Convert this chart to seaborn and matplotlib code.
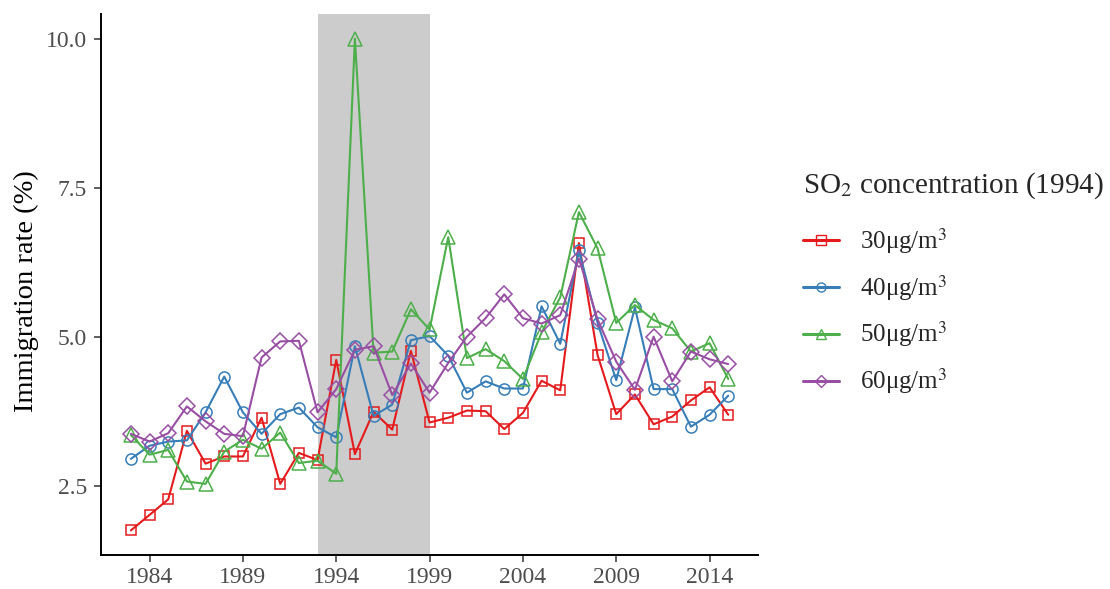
import numpy as np
import pandas as pd
import matplotlib
matplotlib.use("Agg")
import matplotlib.pyplot as plt
import seaborn as sns

# ---------------- data ----------------
years = list(range(1983, 2016))

so2_30 = [1.75, 2.01, 2.27, 3.42, 2.87, 2.99, 2.99, 3.64, 2.53, 3.05, 2.93,
          4.61, 3.03, 3.74, 3.44, 4.76, 3.56, 3.64, 3.76, 3.75, 3.45, 3.72,
          4.26, 4.10, 6.57, 4.69, 3.70, 4.03, 3.53, 3.66, 3.93, 4.15, 3.69]
so2_40 = [2.95, 3.17, 3.24, 3.26, 3.73, 4.33, 3.73, 3.37, 3.70, 3.81, 3.48,
          3.31, 4.84, 3.67, 3.86, 4.94, 5.01, 4.68, 4.06, 4.25, 4.13, 4.13,
          5.51, 4.88, 6.45, 5.23, 4.27, 5.49, 4.12, 4.12, 3.49, 3.69, 4.01]
so2_50 = [3.35, 3.02, 3.10, 2.57, 2.53, 3.07, 3.27, 3.12, 3.39, 2.88, 2.92,
          2.70, 10.00, 4.73, 4.75, 5.46, 5.12, 6.67, 4.64, 4.79, 4.59, 4.29,
          5.07, 5.66, 7.09, 6.48, 5.23, 5.53, 5.28, 5.14, 4.75, 4.89, 4.29]
so2_60 = [3.37, 3.24, 3.38, 3.83, 3.58, 3.37, 3.33, 4.65, 4.92, 4.93, 3.73,
          4.12, 4.78, 4.84, 4.02, 4.55, 4.06, 4.56, 5.00, 5.31, 5.71, 5.31,
          5.22, 5.36, 6.31, 5.29, 4.58, 4.11, 5.00, 4.25, 4.75, 4.62, 4.54]

groups = ["30μg/m$^3$", "40μg/m$^3$", "50μg/m$^3$", "60μg/m$^3$"]
shade_start, shade_end = 1993, 1999

df = pd.DataFrame({
    "year": years * 4,
    "rate": so2_30 + so2_40 + so2_50 + so2_60,
    "group": np.repeat(groups, len(years)),
})

# ---------------- style ----------------
sns.set_style("ticks")
plt.rcParams["font.family"] = ["Liberation Serif", "DejaVu Serif"]
plt.rcParams["mathtext.fontset"] = "stix"

palette = ["#E41A1C", "#377EB8", "#4DAF4A", "#984EA3"]
markers = ["s", "o", "^", "D"]
msize = {"s": 7.5, "o": 8, "^": 10, "D": 8}

fig = plt.figure(figsize=(11.1, 5.89), dpi=100)
ax = fig.add_axes([0.091, 0.058, 0.592, 0.918])

ax.axvspan(shade_start, shade_end, color="#CCCCCC", zorder=0, lw=0)

sns.lineplot(data=df, x="year", y="rate", hue="group", style="group",
             palette=palette, markers=markers, dashes=False, ax=ax,
             linewidth=1.5, markersize=8, markerfacecolor="none")

# open markers in the line colour
for line in ax.lines:
    line.set_markeredgecolor(line.get_color())
    line.set_markerfacecolor("none")
    line.set_markeredgewidth(1.1)
    line.set_zorder(3)
    m = line.get_marker()
    if m in msize:
        line.set_markersize(msize[m])

handles, labels = ax.get_legend_handles_labels()
for h in handles:
    h.set_markeredgecolor(h.get_color())
    h.set_markerfacecolor("none")
    h.set_markeredgewidth(1.0)
    h.set_markersize(6.5)
    h.set_linewidth(2.2)
leg = ax.legend(handles, labels, title="SO$_2$ concentration (1994)",
                loc="upper left", bbox_to_anchor=(0.7234, 0.71),
                bbox_transform=fig.transFigure, frameon=False,
                borderaxespad=0, borderpad=0,
                fontsize=18, title_fontsize=21, handlelength=1.45,
                labelspacing=0.68, handletextpad=0.85, alignment="left")
leg._legend_box.sep = 17.5   # a bit more room under the title

ax.set_xlim(1981.4, 2016.6)
ax.set_ylim(1.34, 10.41)
ax.set_xticks(range(1984, 2015, 5))
ax.set_yticks([2.5, 5.0, 7.5, 10.0])
ax.set_yticklabels(["2.5", "5.0", "7.5", "10.0"])
ax.set_xlabel("")
ax.set_ylabel("Immigration rate (%)", fontsize=20.5, color="black")
ax.yaxis.set_label_coords(-0.095, 0.487)

for side in ["top", "right"]:
    ax.spines[side].set_visible(False)
for side in ["left", "bottom"]:
    ax.spines[side].set_linewidth(1.4)
    ax.spines[side].set_color("black")
ax.tick_params(axis="both", labelsize=17, labelcolor="#4D4D4D",
               color="#333333", length=5, width=1.1)
ax.tick_params(axis="y", pad=5)
ax.tick_params(axis="x", pad=4)

fig.savefig("out.png", dpi=100)
